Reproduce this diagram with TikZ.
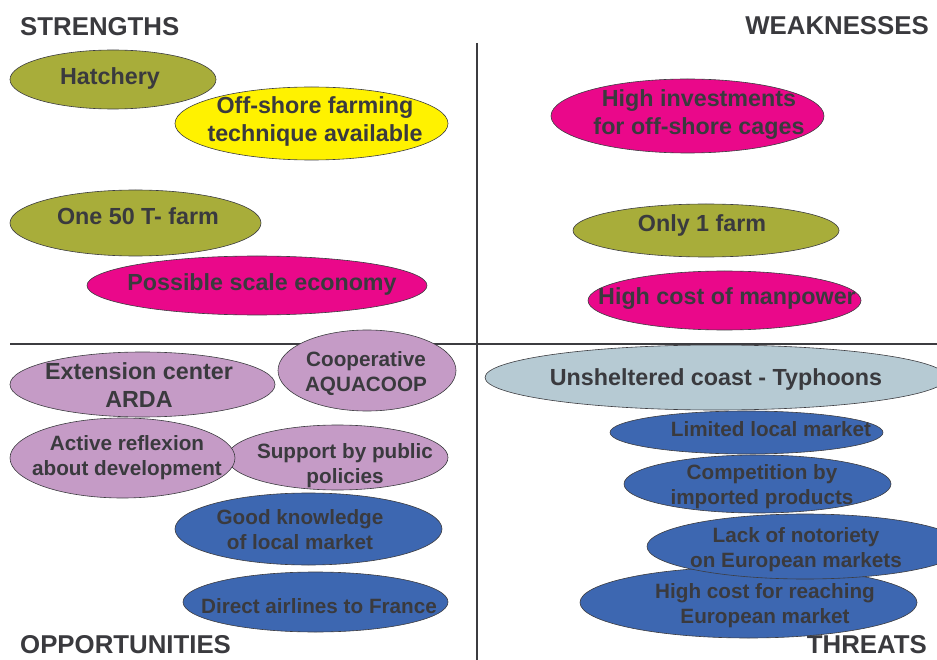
\documentclass[tikz,border=0pt]{standalone}
\usepackage{fontspec}
\setmainfont{Liberation Sans}
\usetikzlibrary{shapes.geometric}
\definecolor{cOlive}{RGB}{168,173,58}
\definecolor{cYellow}{RGB}{255,242,0}
\definecolor{cMagenta}{RGB}{234,8,138}
\definecolor{cLav}{RGB}{197,155,198}
\definecolor{cBlue}{RGB}{61,103,177}
\definecolor{cPale}{RGB}{182,202,211}
\definecolor{txt}{RGB}{58,58,62}
\definecolor{edge}{RGB}{60,60,64}
\begin{document}
\begin{tikzpicture}[x=1pt,y=-1pt,
  ell/.style={ellipse, draw=edge, line width=0.6pt, inner sep=0pt},
  big/.style={font=\bfseries\fontsize{23.3}{28}\selectfont, text=txt, align=center, anchor=base, inner sep=0pt},
  small/.style={font=\bfseries\fontsize{20.7}{25}\selectfont, text=txt, align=center, anchor=base, inner sep=0pt},
  title/.style={font=\bfseries\fontsize{25.8}{30}\selectfont, text=txt, inner sep=0pt},
  divider/.style={draw=edge, line width=2.4pt}]
\useasboundingbox (0,0) rectangle (937,660);
\clip (0,0) rectangle (937,660);
% dividers
\coordinate (vtop) at (477,43);
\coordinate (vbot) at (477,660);
\coordinate (hl) at (10,344);
\coordinate (hr) at (937,344);
\draw[divider] (vtop) -- (vbot);
\draw[divider] (hl) -- (hr);
% titles
\node[title, anchor=base west] (tS) at (20,36) {STRENGTHS};
\node[title, anchor=base east] (tW) at (929,35) {WEAKNESSES};
\node[title, anchor=base west] (tO) at (20,653) {OPPORTUNITIES};
\node[title, anchor=base east] (tT) at (927,653) {THREATS};
% strengths
\node[ell, fill=cOlive, minimum width=206pt, minimum height=59pt] (e1) at (113,79.5) {};
\node[big] (l1) at (110,85) {Hatchery};
\node[ell, fill=cYellow, minimum width=273pt, minimum height=73pt] (e2) at (311.5,123.5) {};
\node[big] (l2) at (315,142) {Off-shore farming\\technique available};
\node[ell, fill=cOlive, minimum width=251pt, minimum height=66pt] (e3) at (135.5,223) {};
\node[big] (l3) at (138,225) {One 50 T- farm};
\node[ell, fill=cMagenta, minimum width=340pt, minimum height=59pt] (e4) at (257,285.5) {};
\node[big] (l4) at (262,291) {Possible scale economy};
% weaknesses
\node[ell, fill=cMagenta, minimum width=273pt, minimum height=74pt] (e5) at (687.5,116) {};
\node[big] (l5) at (699,135) {High investments\\for off-shore cages};
\node[ell, fill=cOlive, minimum width=266pt, minimum height=53pt] (e6) at (706,230.5) {};
\node[big] (l6) at (702,232) {Only 1 farm};
\node[ell, fill=cMagenta, minimum width=273pt, minimum height=59pt] (e7) at (724.5,300.5) {};
\node[big] (l7) at (727,305) {High cost of manpower};
% opportunities
\node[ell, fill=cLav, minimum width=265pt, minimum height=65pt] (e8) at (142.5,384.5) {};
\node[big] (l8) at (139,407) {Extension center\\ARDA};
\node[ell, fill=cLav, minimum width=178pt, minimum height=81pt] (e9) at (367,370.5) {};
\node[small] (l9) at (366,391) {Cooperative\\AQUACOOP};
\node[ell, fill=cLav, minimum width=221pt, minimum height=65pt] (e11) at (337.5,457.5) {};
\node[small] (l11) at (345,483) {Support by public\\policies};
\node[ell, fill=cLav, minimum width=225pt, minimum height=80pt] (e10) at (122.5,458) {};
\node[small] (l10) at (127,475) {Active reflexion\\about development};
\node[ell, fill=cBlue, minimum width=267pt, minimum height=72pt] (e12) at (308.5,529) {};
\node[small] (l12) at (300,549) {Good knowledge\\of local market};
\node[ell, fill=cBlue, minimum width=265pt, minimum height=60pt] (e13) at (315.5,602) {};
\node[small] (l13) at (319,613) {Direct airlines to France};
% threats
\node[ell, fill=cPale, minimum width=462pt, minimum height=65pt] (e14) at (716,377.5) {};
\node[big] (l14) at (716,385) {Unsheltered coast - Typhoons};
\node[ell, fill=cBlue, minimum width=273pt, minimum height=43pt] (e15) at (746.5,432.5) {};
\node[small] (l15) at (771,436) {Limited local market};
\node[ell, fill=cBlue, minimum width=267pt, minimum height=58pt] (e16) at (757.5,484) {};
\node[small] (l16) at (762,504) {Competition by\\imported products};
\node[ell, fill=cBlue, minimum width=337pt, minimum height=71pt] (e18) at (748.5,602.5) {};
\node[ell, fill=cBlue, minimum width=316pt, minimum height=65pt] (e17) at (805,546.5) {};
\node[small] (l17) at (796,567) {Lack of notoriety\\on European markets};
\node[small] (l18) at (765,623) {High cost for reaching\\European market};
\end{tikzpicture}
\end{document}
